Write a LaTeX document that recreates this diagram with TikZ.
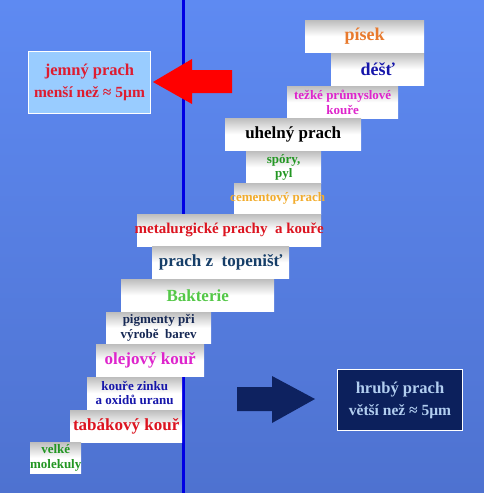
\documentclass[tikz,border=0pt]{standalone}
\usepackage{fontspec}
\setmainfont{Liberation Serif}
\usetikzlibrary{positioning}

\definecolor{pozadiTop}{RGB}{94,138,242}
\definecolor{pozadiBot}{RGB}{78,114,208}
\definecolor{cara}{RGB}{0,0,228}
\definecolor{stin}{RGB}{190,190,190}
\definecolor{jemnyFill}{RGB}{153,204,255}
\definecolor{jemnyText}{RGB}{222,28,48}
\definecolor{hrubyFill}{RGB}{12,32,92}
\definecolor{hrubyText}{RGB}{178,206,240}
\definecolor{sipkaR}{RGB}{255,0,0}
\definecolor{sipkaN}{RGB}{14,34,96}
\definecolor{oranz}{RGB}{232,122,46}
\definecolor{tmmodra}{RGB}{22,22,170}
\definecolor{purpur}{RGB}{222,36,204}
\definecolor{zelena}{RGB}{34,150,34}
\definecolor{zlata}{RGB}{242,172,44}
\definecolor{cervena}{RGB}{220,20,32}
\definecolor{tyrkys}{RGB}{22,62,104}
\definecolor{svzelena}{RGB}{84,200,72}
\definecolor{namorni}{RGB}{22,40,84}

\begin{document}
\begin{tikzpicture}[x=1pt, y=-1pt,
  stupen/.style={rectangle, anchor=north west, inner sep=0pt, align=center,
                 minimum height=32, top color=stin, bottom color=white,
                 middle color=white, font=\bfseries},
  obri/.style={font=\bfseries\fontsize{18}{20}\selectfont},
  velke/.style={font=\bfseries\fontsize{17}{19}\selectfont},
  stredni/.style={font=\bfseries\fontsize{15}{17}\selectfont},
  male/.style={font=\bfseries\fontsize{13}{14.5}\selectfont},
  popis/.style={rectangle, anchor=north west, draw=white, line width=1,
                align=center, minimum width=122, minimum height=62}
]

%---------------------------------------
% Background and divider
%---------------------------------------
\shade[top color=pozadiTop, bottom color=pozadiBot] (0,0) rectangle (484,493);
\useasboundingbox (0,0) rectangle (484,493);

\coordinate (horni) at (183,0);
\coordinate (dolni) at (183,493);
\draw[cara, line width=3] (horni) -- (dolni);

%====================================================
% Staircase of particle sources
%====================================================
\node[stupen, obri,  minimum width=119, text=oranz]    (pisek)    at (305,20)  {písek};
\node[stupen, obri,  minimum width=93,  text=tmmodra]  (dest)     at (331,53)  {déšť};
\node[stupen, male,  minimum width=111, text=purpur]   (tezke)    at (287,86)  {težké průmyslové\\kouře};
\node[stupen, velke, minimum width=136, text=black]    (uhelny)   at (225,118) {uhelný prach};
\node[stupen, male,  minimum width=75,  text=zelena]   (spory)    at (246,151) {spóry,\\pyl};
\node[stupen, male,  minimum width=87,  text=zlata, minimum height=31]
      (cement) at (234,183) {\makebox[0pt]{cementový prach}};
\node[stupen, stredni, minimum width=184, text=cervena] (metal)   at (137,214) {\makebox[0pt]{metalurgické prachy\ \ a kouře}};
\node[stupen, velke, minimum width=137, text=tyrkys]   (topeni)   at (152,246) {prach z\ \ topenišť};
\node[stupen, velke, minimum width=153, text=svzelena] (bakterie) at (121,279) {Bakterie};
\node[stupen, male,  minimum width=105, text=namorni, minimum height=31]
      (pigmenty) at (106,312) {pigmenty při\\výrobě\ \ barev};
\node[stupen, velke, minimum width=108, text=purpur]   (olej)     at (96,344)  {olejový kouř};
\node[stupen, male,  minimum width=95,  text=tmmodra]  (zinek)    at (87,377)  {kouře zinku\\a oxidů uranu};
\node[stupen, velke, minimum width=112, text=cervena]  (tabak)    at (70,410)  {tabákový kouř};
\node[stupen, male,  minimum width=51,  text=zelena, minimum height=31]
      (molekuly) at (30,442) {velké\\\makebox[0pt]{molekuly}};

%====================================================
% LEFT: fine dust
%====================================================
\node[popis, fill=jemnyFill, text=jemnyText, font=\bfseries\fontsize{16.5}{22}\selectfont]
      (jemny) at (28,51)
      {jemný prach\\{\fontsize{15.5}{22}\selectfont menší než ≈ 5µm}};
\fill[sipkaR] (153,82) -- (192,59) -- (192,70) -- (232,70) -- (232,93)
      -- (192,93) -- (192,104) -- cycle;

%====================================================
% RIGHT: coarse dust
%====================================================
\fill[sipkaN] (315,399) -- (272,376) -- (272,387) -- (237,387) -- (237,411)
      -- (272,411) -- (272,423) -- cycle;
\node[popis, fill=hrubyFill, text=hrubyText, font=\bfseries\fontsize{16.5}{22}\selectfont,
      minimum width=125, minimum height=61]
      (hruby) at (337,369)
      {hrubý prach\\{\fontsize{15.5}{22}\selectfont větší než ≈ 5µm}};

\end{tikzpicture}
\end{document}
